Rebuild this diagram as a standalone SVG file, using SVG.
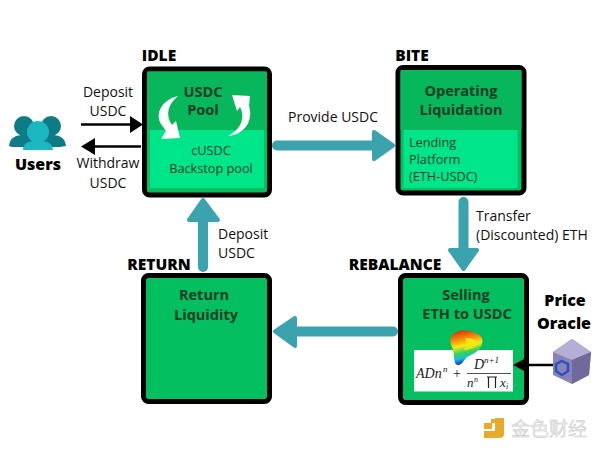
<svg xmlns="http://www.w3.org/2000/svg" width="600" height="450" viewBox="0 0 600 450">
<style>
text{font-family:"Open Sans","Noto Sans","Liberation Sans",sans-serif;text-anchor:middle}
.b{font-weight:800;fill:#000;font-size:15.500px}
.t{font-weight:700;fill:#063d24;font-size:14.500px}
.l{fill:#111;font-size:14px}
.s{fill:#063d24;font-size:12.700px}
.box{fill:#04bf5f;stroke:#000;stroke-width:5}
.top{fill:#08b65c}
.in{fill:#00e58a}
.shaft{stroke:#3ba3ad;stroke-width:10;stroke-linecap:round;fill:none}
.head{fill:#3ba3ad;stroke:#3ba3ad;stroke-width:4;stroke-linejoin:round}
.thin{stroke:#000;stroke-width:2.500;fill:none}
.f{font-family:"Liberation Serif",serif;font-style:italic;fill:#222}
</style>
<rect width="600" height="450" fill="#fff"/>
<g id="users">
<g fill="#0e7c86">
<circle cx="24" cy="126" r="10"/><path d="M9 146C10 137 16 135 24 135C32 135 39 137 40 146L34 147H12Z"/>
<circle cx="51" cy="126" r="10"/><path d="M36 146C37 137 43 135 51 135C59 135 65 137 66 146L60 147H40Z"/>
</g>
<circle cx="38" cy="132" r="11" fill="#1cb8c1"/><path d="M23 150C23 142 30 141 38 141C46 141 52 142 53 150Z" fill="#1cb8c1"/>
<text class="b" x="38" y="170" style="font-size:16px">Users</text>
</g>
<g id="idle">
<text class="b" x="159" y="61">IDLE</text>
<rect class="box" x="144.500" y="69" width="125" height="126" rx="5"/>
<rect class="top" x="147" y="71.500" width="120" height="58.500"/>
<rect class="in" x="150" y="130" width="114" height="58"/>
<text class="t" x="203" y="97">USDC</text><text class="t" x="203" y="115">Pool</text>
<text class="s" x="211" y="155">cUSDC</text><text class="s" x="211" y="173">Backstop pool</text>
<path d="M178 96C164 99 154 112 161 124L166 131L161 139L180 138L176 121L172 125C165 115 168 104 178 96Z" fill="#fff"/>
<path d="M228 136C243 135 254 122 249 106L250 96L232 95L237 111L240 107C246 119 240 130 228 136Z" fill="#fff"/>
</g>
<g id="bite">
<text class="b" x="412" y="61">BITE</text>
<rect class="box" x="398" y="67.500" width="126" height="125.500" rx="5"/>
<rect class="top" x="400.500" y="70" width="121" height="60"/>
<rect class="in" x="403.500" y="130" width="114" height="58"/>
<text class="t" x="461" y="96">Operating</text><text class="t" x="461" y="115">Liquidation</text>
<text class="s" x="409" y="147" style="text-anchor:start">Lending</text>
<text class="s" x="409" y="164" style="text-anchor:start">Platform</text>
<text class="s" x="409" y="181" style="text-anchor:start">(ETH-USDC)</text>
</g>
<g id="return">
<text class="b" x="159" y="270">RETURN</text>
<rect class="box" x="143.500" y="275.500" width="126" height="126" rx="5"/>
<text class="t" x="204" y="300">Return</text><text class="t" x="206" y="320">Liquidity</text>
</g>
<g id="rebalance">
<text class="b" x="395" y="270">REBALANCE</text>
<rect class="box" x="400.500" y="275.500" width="126" height="127" rx="5"/>
<text class="t" x="466" y="300">Selling</text><text class="t" x="467" y="319">ETH to USDC</text>
<rect x="414" y="350" width="99" height="41.500" fill="#fff"/>
<defs><linearGradient id="rb" x1="0" y1="0" x2="0.200" y2="1">
<stop offset="0" stop-color="#d81e05"/><stop offset="0.300" stop-color="#f58a0a"/><stop offset="0.500" stop-color="#f5ea14"/><stop offset="0.700" stop-color="#34d05c"/><stop offset="0.850" stop-color="#14c0dc"/><stop offset="1" stop-color="#1a2fd6"/>
</linearGradient></defs>
<path d="M459 331C466 329 479 333 482 338C484 345 479 352 469 356C463 359 463 365 458 365C453 365 455 354 452 347C448 339 452 333 459 331Z" fill="url(#rb)"/>
<path d="M465 338C471 338 477 340 480 344C474 348 468 350 464 350C467 346 467 342 465 338Z" fill="#f5ea14" opacity="0.800"/>
<text class="f" x="416" y="378" style="text-anchor:start;font-size:14px">ADn</text>
<text class="f" x="443" y="372" style="text-anchor:start;font-size:9px">n</text>
<text class="f" x="457" y="378" style="font-size:14px;font-style:normal">+</text>
<text class="f" x="474" y="369" style="text-anchor:start;font-size:14px">D</text>
<text class="f" x="484" y="363" style="text-anchor:start;font-size:9px">n+1</text>
<path d="M467 373.500H511" stroke="#222" stroke-width="0.800"/>
<text class="f" x="467" y="387" style="text-anchor:start;font-size:13px">n</text>
<text class="f" x="474" y="382" style="text-anchor:start;font-size:8px">n</text>
<path d="M487 377H497M488.500 377V388M495.500 377V388" stroke="#222" stroke-width="1.200" fill="none"/>
<text class="f" x="500" y="387" style="text-anchor:start;font-size:13px">x</text>
<text class="f" x="506" y="389" style="text-anchor:start;font-size:8px">i</text>
</g>
<g id="oracle">
<text class="b" x="565" y="306" style="font-size:16px">Price</text><text class="b" x="564" y="329" style="font-size:16px">Oracle</text>
<path d="M572 339L591 352L589 375L572 384L553 375V352Z" fill="#8a83b5"/>
<path d="M572 339L591 352L572 360L553 352Z" fill="#b5aed6"/>
<path d="M572 360L591 352L589 375L572 384Z" fill="#6f6a99"/>
<path d="M562 361L568 364V371L562 375L556 371V364Z" fill="none" stroke="#2b4fc7" stroke-width="2.500"/>
</g>
<g id="connectors">
<path class="shaft" d="M277 145.500H374"/><path class="head" d="M374 132L393 145.500L374 159Z"/>
<path class="shaft" d="M463.500 202V250"/><path class="head" d="M450 250L463.500 269L477 250Z"/>
<path class="shaft" d="M393 331.500H295"/><path class="head" d="M295 318L275 331.500L295 346Z"/>
<path class="shaft" d="M203 267V220"/><path class="head" d="M189 220L203 200L218 220Z"/>
<path class="thin" d="M81 124.500H132"/><path d="M130 116L143 124.500L130 133Z" fill="#000"/>
<path class="thin" d="M141 146.500H94"/><path d="M95 138L81 146.500L95 155Z" fill="#000"/>
<path class="thin" d="M553 365H525"/><path d="M526 358L513 365L526 372Z" fill="#000"/>
</g>
<g id="labels">
<text class="l" x="108" y="97">Deposit</text><text class="l" x="108" y="116">USDC</text>
<text class="l" x="108" y="168">Withdraw</text><text class="l" x="108" y="188">USDC</text>
<text class="l" x="333" y="122">Provide USDC</text>
<text class="l" x="476" y="221" style="text-anchor:start">Transfer</text>
<text class="l" x="476" y="240" style="text-anchor:start">(Discounted) ETH</text>
<text class="l" x="218" y="239" style="text-anchor:start">Deposit</text>
<text class="l" x="218" y="258" style="text-anchor:start">USDC</text>
</g>
<g id="watermark">
<path d="M495 418H504V434C504 437 502 438 499 438H484V431H495Z" fill="#e8a92c"/>
<rect x="484" y="423" width="8" height="6" fill="#e8a92c"/>
<rect x="491" y="419" width="4" height="4" fill="#e8a92c"/>
<text x="549" y="436" style="font-family:'Noto Sans CJK SC',sans-serif;font-size:19px;fill:#ececec;stroke:#c4c4c4;stroke-width:0.400">金色财经</text>
</g>
</svg>
